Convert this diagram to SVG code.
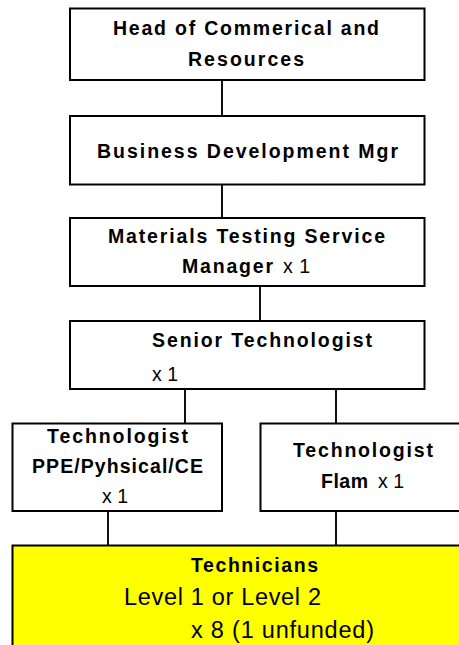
<svg xmlns="http://www.w3.org/2000/svg" width="459" height="645" viewBox="0 0 459 645">
<style>
.box{fill:#fff;stroke:#000;stroke-width:2}
.yel{fill:#ffff00;stroke:#000;stroke-width:2}
.b{font-family:"Liberation Sans",Arial,sans-serif;font-weight:bold;font-size:19.5px;fill:#000}
.r{font-family:"Liberation Sans",Arial,sans-serif;font-weight:normal;font-size:19.5px;fill:#000}
.big{font-family:"Liberation Sans",Arial,sans-serif;font-weight:normal;font-size:23.5px;fill:#000}
.conn line{stroke:#111;stroke-width:2}
</style>
<rect width="459" height="645" fill="#fff"/>
<g class="conn" id="connectors">
<line x1="222" y1="80" x2="222" y2="116"/>
<line x1="222" y1="184" x2="222" y2="218"/>
<line x1="260" y1="286" x2="260" y2="321"/>
<line x1="185" y1="389" x2="185" y2="424"/>
<line x1="336" y1="389" x2="336" y2="424"/>
<line x1="108" y1="511" x2="108" y2="545"/>
<line x1="336" y1="511" x2="336" y2="545"/>
</g>
<g id="head">
<rect class="box" x="70" y="8.5" width="354.5" height="71.5"/>
<text class="b" x="113" y="35" textLength="266">Head of Commerical and</text>
<text class="b" x="188" y="66" textLength="116">Resources</text>
</g>
<g id="bdm">
<rect class="box" x="70" y="116" width="354.5" height="68.5"/>
<text class="b" x="97" y="158" textLength="301">Business Development Mgr</text>
</g>
<g id="mtsm">
<rect class="box" x="70" y="218" width="354.5" height="68"/>
<text class="b" x="108" y="243" textLength="277">Materials Testing Service</text>
<text class="b" x="182" y="273" textLength="91">Manager</text>
<text class="r" x="283" y="273" textLength="27">x 1</text>
</g>
<g id="senior">
<rect class="box" x="70" y="321" width="354.5" height="68"/>
<text class="b" x="152" y="347" textLength="220">Senior Technologist</text>
<text class="r" x="152" y="381" textLength="26">x 1</text>
</g>
<g id="tech-ppe">
<rect class="box" x="12.5" y="423.5" width="209.5" height="87.5"/>
<text class="b" x="47" y="443" textLength="141">Technologist</text>
<text class="b" x="32" y="473" textLength="171">PPE/Pyhsical/CE</text>
<text class="r" x="102" y="503" textLength="26">x 1</text>
</g>
<g id="tech-flam">
<rect class="box" x="260.5" y="423.5" width="215" height="87.5"/>
<text class="b" x="293" y="457" textLength="140">Technologist</text>
<text class="b" x="321" y="488" textLength="47">Flam</text>
<text class="r" x="378" y="488" textLength="26">x 1</text>
</g>
<g id="technicians">
<rect class="yel" x="12.5" y="545.5" width="470" height="120"/>
<text class="b" x="191" y="572" textLength="127">Technicians</text>
<text class="big" x="124" y="605" textLength="197">Level 1 or Level 2</text>
<text class="big" x="191" y="638" textLength="183">x 8 (1 unfunded)</text>
</g>
</svg>
